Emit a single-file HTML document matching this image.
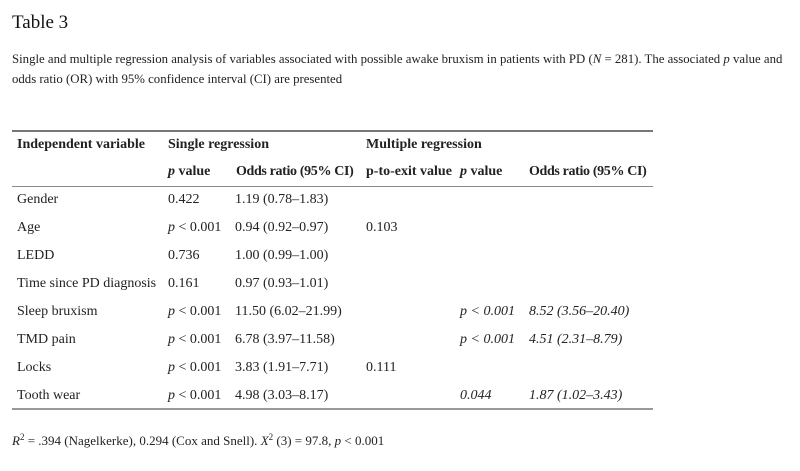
<!DOCTYPE html>
<html><head><meta charset="utf-8"><style>
html,body{margin:0;padding:0;background:#fff;}
body{width:800px;height:471px;position:relative;overflow:hidden;font-family:"Liberation Serif","Times New Roman",serif;color:#222;}
.a{position:absolute;white-space:nowrap;}
.t{font-size:14px;line-height:20px;}
.b{font-weight:bold;}
.cap{font-size:12.8px;line-height:20px;}
.rule{position:absolute;left:12px;width:641px;background:#8a8a8a;}
.or{letter-spacing:-0.35px;}
sup{font-size:9px;line-height:0;vertical-align:5px;}
</style></head><body>
<div class="a" style="left:12px;top:11px;font-size:19px;line-height:24px;color:#111;">Table 3</div>
<div class="a cap" style="left:12px;top:49px;">Single and multiple regression analysis of variables associated with possible awake bruxism in patients with PD (<i>N</i> = 281). The associated <i>p</i> value and</div>
<div class="a cap" style="left:12px;top:69px;">odds ratio (OR) with 95% confidence interval (CI) are presented</div>

<div class="rule" style="top:130px;height:2px;background:#777;"></div>
<div class="rule" style="top:186px;height:1px;"></div>
<div class="rule" style="top:408px;height:1.5px;background:#999;"></div>

<div class="a t b" style="left:17px;top:135px;">Independent variable</div>
<div class="a t b" style="left:168px;top:135px;">Single regression</div>
<div class="a t b" style="left:366px;top:135px;">Multiple regression</div>
<div class="a t b" style="left:168px;top:162px;"><i>p</i> value</div>
<div class="a t b or" style="left:236px;top:162px;">Odds ratio (95% CI)</div>
<div class="a t b" style="left:366px;top:162px;">p-to-exit value</div>
<div class="a t b" style="left:460px;top:162px;"><i>p</i> value</div>
<div class="a t b or" style="left:529px;top:162px;">Odds ratio (95% CI)</div>

<div class="a t" style="left:17px;top:190px;">Gender</div>
<div class="a t" style="left:168px;top:190px;">0.422</div>
<div class="a t" style="left:235px;top:190px;">1.19 (0.78–1.83)</div>

<div class="a t" style="left:17px;top:218px;">Age</div>
<div class="a t" style="left:168px;top:218px;"><i>p</i> &lt; 0.001</div>
<div class="a t" style="left:235px;top:218px;">0.94 (0.92–0.97)</div>
<div class="a t" style="left:366px;top:218px;">0.103</div>

<div class="a t" style="left:17px;top:246px;">LEDD</div>
<div class="a t" style="left:168px;top:246px;">0.736</div>
<div class="a t" style="left:235px;top:246px;">1.00 (0.99–1.00)</div>

<div class="a t" style="left:17px;top:274px;">Time since PD diagnosis</div>
<div class="a t" style="left:168px;top:274px;">0.161</div>
<div class="a t" style="left:235px;top:274px;">0.97 (0.93–1.01)</div>

<div class="a t" style="left:17px;top:302px;">Sleep bruxism</div>
<div class="a t" style="left:168px;top:302px;"><i>p</i> &lt; 0.001</div>
<div class="a t" style="left:235px;top:302px;">11.50 (6.02–21.99)</div>
<div class="a t" style="left:460px;top:302px;font-style:italic;">p &lt; 0.001</div>
<div class="a t" style="left:529px;top:302px;font-style:italic;">8.52 (3.56–20.40)</div>

<div class="a t" style="left:17px;top:330px;">TMD pain</div>
<div class="a t" style="left:168px;top:330px;"><i>p</i> &lt; 0.001</div>
<div class="a t" style="left:235px;top:330px;">6.78 (3.97–11.58)</div>
<div class="a t" style="left:460px;top:330px;font-style:italic;">p &lt; 0.001</div>
<div class="a t" style="left:529px;top:330px;font-style:italic;">4.51 (2.31–8.79)</div>

<div class="a t" style="left:17px;top:358px;">Locks</div>
<div class="a t" style="left:168px;top:358px;"><i>p</i> &lt; 0.001</div>
<div class="a t" style="left:235px;top:358px;">3.83 (1.91–7.71)</div>
<div class="a t" style="left:366px;top:358px;">0.111</div>

<div class="a t" style="left:17px;top:386px;">Tooth wear</div>
<div class="a t" style="left:168px;top:386px;"><i>p</i> &lt; 0.001</div>
<div class="a t" style="left:235px;top:386px;">4.98 (3.03–8.17)</div>
<div class="a t" style="left:460px;top:386px;font-style:italic;">0.044</div>
<div class="a t" style="left:529px;top:386px;font-style:italic;">1.87 (1.02–3.43)</div>

<div class="a" style="left:12px;top:431px;font-size:13px;line-height:20px;"><i>R</i><sup>2</sup> = .394 (Nagelkerke), 0.294 (Cox and Snell). <i>X</i><sup>2</sup> (3) = 97.8, <i>p</i> &lt; 0.001</div>
</body></html>
